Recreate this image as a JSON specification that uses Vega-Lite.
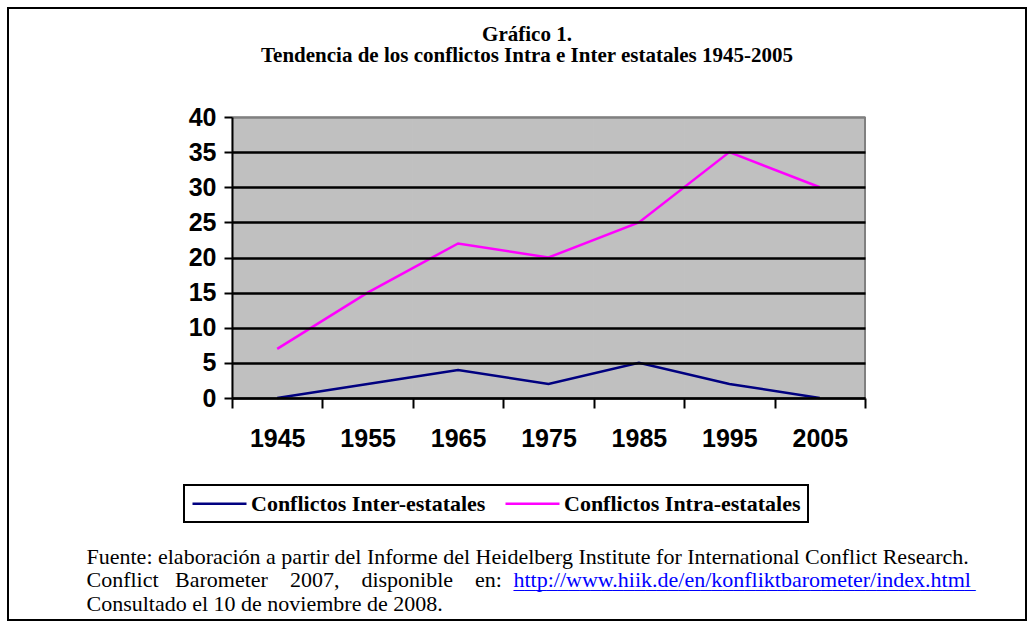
{
  "$schema": "https://vega.github.io/schema/vega-lite/v6.json",
  "width": 1018,
  "height": 612,
  "autosize": {"type": "none"},
  "padding": {"left": 8, "top": 8, "right": 8, "bottom": 7},
  "background": "white",
  "config": {
    "view": {"stroke": "black", "strokeWidth": 2, "fill": "white"},
    "axis": {"zindex": 1},
    "legend": {"strokeWidth": 2}
  },
  "title": {
    "text": ["Gráfico 1.", "Tendencia de los conflictos Intra e Inter estatales 1945-2005"],
    "orient": "top",
    "anchor": "middle",
    "frame": "group",
    "dx": 10,
    "offset": -58,
    "font": "Liberation Serif",
    "fontSize": 21,
    "fontWeight": "bold",
    "color": "black",
    "lineHeight": 21
  },
  "datasets": {
    "bg": [
      {"year": 1945}, {"year": 1955}, {"year": 1965}, {"year": 1975},
      {"year": 1985}, {"year": 1995}, {"year": 2005}
    ],
    "series": [
      {"year": 1945, "serie": "Conflictos Inter-estatales", "value": 0},
      {"year": 1955, "serie": "Conflictos Inter-estatales", "value": 2},
      {"year": 1965, "serie": "Conflictos Inter-estatales", "value": 4},
      {"year": 1975, "serie": "Conflictos Inter-estatales", "value": 2},
      {"year": 1985, "serie": "Conflictos Inter-estatales", "value": 5},
      {"year": 1995, "serie": "Conflictos Inter-estatales", "value": 2},
      {"year": 2005, "serie": "Conflictos Inter-estatales", "value": 0},
      {"year": 1945, "serie": "Conflictos Intra-estatales", "value": 7},
      {"year": 1955, "serie": "Conflictos Intra-estatales", "value": 15},
      {"year": 1965, "serie": "Conflictos Intra-estatales", "value": 22},
      {"year": 1975, "serie": "Conflictos Intra-estatales", "value": 20},
      {"year": 1985, "serie": "Conflictos Intra-estatales", "value": 25},
      {"year": 1995, "serie": "Conflictos Intra-estatales", "value": 35},
      {"year": 2005, "serie": "Conflictos Intra-estatales", "value": 30}
    ]
  },
  "layer": [
    {
      "data": {"name": "bg"},
      "mark": {"type": "rect", "fill": "#C0C0C0", "stroke": "#C0C0C0", "strokeWidth": 1},
      "encoding": {
        "x": {
          "field": "year", "type": "ordinal",
          "scale": {"type": "band", "range": [224, 857], "paddingInner": 0, "paddingOuter": 0}
        },
        "y": {
          "datum": 0, "type": "quantitative",
          "scale": {"domain": [0, 40], "range": [390, 109], "nice": false}
        },
        "y2": {"datum": 40}
      }
    },
    {
      "data": {"name": "bg"},
      "mark": {"type": "rule", "color": "#808080", "strokeWidth": 2},
      "encoding": {
        "x": {"datum": 2005, "type": "ordinal", "bandPosition": 1},
        "y": {"datum": 0, "type": "quantitative"},
        "y2": {"datum": 40}
      }
    },
    {
      "data": {"name": "series"},
      "mark": {"type": "line", "strokeWidth": 2.5},
      "encoding": {
        "x": {
          "field": "year", "type": "ordinal",
          "axis": {
            "orient": "bottom",
            "offset": -222,
            "zindex": 1,
            "tickBand": "extent",
            "labelAngle": 0,
            "labelAlign": "center",
            "domainColor": "black",
            "domainWidth": 2,
            "tickColor": "black",
            "tickWidth": 2,
            "tickSize": 10,
            "labelFont": "Liberation Sans",
            "labelFontWeight": "bold",
            "labelFontSize": 25,
            "labelColor": "black",
            "labelPadding": 30,
            "grid": false,
            "title": ["http://www.hiik.de/en/konfliktbarometer/index.html", "__________________________________________"],
            "titleX": 505,
            "titleY": 188,
            "titleAlign": "left",
            "titleBaseline": "alphabetic",
            "titleAngle": 0,
            "titleFont": "Liberation Serif",
            "titleFontSize": 22,
            "titleFontWeight": "normal",
            "titleColor": "#0000FF",
            "titleLineHeight": 1
          }
        },
        "y": {
          "field": "value", "type": "quantitative",
          "axis": {
            "orient": "left",
            "offset": -224,
            "zindex": 1,
            "values": [0, 5, 10, 15, 20, 25, 30, 35, 40],
            "domainColor": "black",
            "domainWidth": 2,
            "tickColor": "black",
            "tickWidth": 2,
            "tickSize": 8,
            "labelFont": "Liberation Sans",
            "labelFontWeight": "bold",
            "labelFontSize": 25,
            "labelColor": "black",
            "labelPadding": 8,
            "grid": true,
            "gridColor": {"condition": {"test": "datum.value === 40", "value": "#808080"}, "value": "black"},
            "gridWidth": 2.5,
            "gridOpacity": 1,
            "title": [
              "Fuente: elaboración a partir del Informe del Heidelberg Institute for International Conflict Research.",
              "Conflict \u00a0\u00a0Barometer \u00a0\u00a0\u00a02007, \u00a0\u00a0\u00a0disponible \u00a0\u00a0\u00a0en:",
              "Consultado el 10 de noviembre de 2008."
            ],
            "titleX": -146,
            "titleY": 555,
            "titleAlign": "left",
            "titleBaseline": "alphabetic",
            "titleAngle": 0,
            "titleFont": "Liberation Serif",
            "titleFontSize": 22,
            "titleFontWeight": "normal",
            "titleColor": "black",
            "titleLineHeight": 23.7
          }
        },
        "color": {
          "field": "serie", "type": "nominal",
          "scale": {"domain": ["Conflictos Inter-estatales", "Conflictos Intra-estatales"], "range": ["#000080", "#FF00FF"]},
          "legend": {
            "orient": "none",
            "legendX": 176,
            "legendY": 477,
            "direction": "horizontal",
            "title": null,
            "symbolType": "M-1,0H4.4",
            "symbolSize": 400,
            "symbolStrokeWidth": 2.5,
            "labelFont": "Liberation Serif",
            "labelFontWeight": "bold",
            "labelFontSize": 22,
            "labelColor": "black",
            "labelOffset": 37,
            "columnPadding": 14,
            "padding": 7,
            "strokeColor": "black",
            "fillColor": "white",
            "labelLimit": 400
          }
        }
      }
    }
  ]
}
